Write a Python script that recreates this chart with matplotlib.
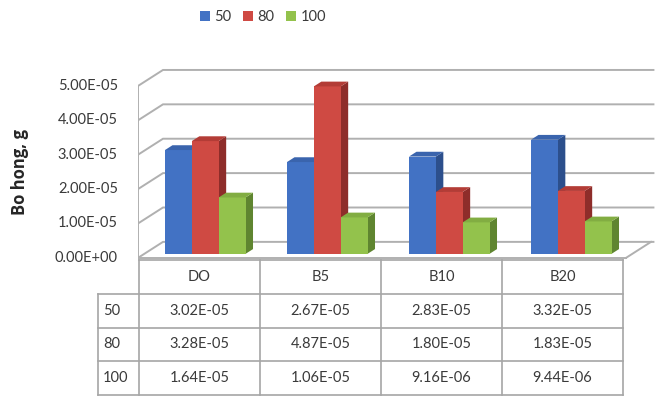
import matplotlib
matplotlib.use("Agg")
import matplotlib.pyplot as plt
from matplotlib.patches import Polygon, Patch
import numpy as np

plt.rcParams['font.family'] = ['Lato', 'DejaVu Sans']

# ---- data -------------------------------------------------------------
categories = ["DO", "B5", "B10", "B20"]
series_names = ["50", "80", "100"]
s50 = [3.02e-05, 2.67e-05, 2.83e-05, 3.32e-05]
s80 = [3.28e-05, 4.87e-05, 1.80e-05, 1.83e-05]
s100 = [1.64e-05, 1.06e-05, 9.16e-06, 9.44e-06]
series_values = [s50, s80, s100]
y_ticks = [0.0, 1e-05, 2e-05, 3e-05, 4e-05, 5e-05]
y_label = "Bo hong, g"

# ---- styles -----------------------------------------------------------
front_cols = ["#4272c4", "#cf4a43", "#93c24c"]
side_cols = ["#2c4f8c", "#8e2d2a", "#5f8530"]
top_cols = ["#3a64ad", "#b33c36", "#82ad42"]
grid_col = "#b0b0b0"
text_col = "#3a3a3a"

W, H = 656, 396
fig = plt.figure(figsize=(W / 100, H / 100), dpi=100)


def fig_rect(x0, y0, x1, y1):
    """Pixel box (top-left origin) -> figure fraction rect."""
    return [x0 / W, 1 - y1 / H, (x1 - x0) / W, (y1 - y0) / H]


# ---- 3-D column chart -------------------------------------------------
ax = fig.add_axes(fig_rect(138, 55, 656, 262))
ax.set_xlim(0, 518 / 122)
ax.set_ylim(-0.12e-05, 5.9e-05)
ax.axis("off")

DX = 25 / 122          # depth offset, category units
DY = 16 / 34.4 * 1e-05  # depth offset, value units


def proj(x, v, z):
    return (x + z * DX, v + z * DY)


n_cat = len(categories)
x_end = float(n_cat)

# side wall and back wall grid
ymax = y_ticks[-1]
ax.plot([0, 0], [0, ymax], color=grid_col, lw=1.4, zorder=1)
for t in y_ticks:
    p0 = proj(0, t, 0)
    p1 = proj(0, t, 1)
    p2 = proj(x_end + 0.02, t, 1)
    ax.plot([p0[0], p1[0], p2[0]], [p0[1], p1[1], p2[1]],
            color=grid_col, lw=1.4, zorder=1, solid_joinstyle="miter")
    ax.plot([-0.05, 0], [t, t], color=grid_col, lw=1.2, zorder=1)
    ax.text(-0.165, t, "{:.2E}".format(t), ha="right", va="center",
            fontsize=10.5, color=text_col)

# floor edges
f0 = proj(x_end, 0, 0)
f1 = proj(x_end, 0, 1)
ax.plot([0, x_end], [0, 0], color=grid_col, lw=1.4, zorder=1)
ax.plot([f0[0], f1[0]], [f0[1], f1[1]], color=grid_col, lw=1.4, zorder=1)

# bars
bar_w = 0.22
z_front, z_back = 0.25, 0.55
for s, vals in enumerate(series_values):
    for i, v in enumerate(vals):
        xl = i + 0.5 + (s - 1) * bar_w - bar_w / 2
        xr = xl + bar_w
        front = [proj(xl, 0, z_front), proj(xr, 0, z_front),
                 proj(xr, v, z_front), proj(xl, v, z_front)]
        side = [proj(xr, 0, z_front), proj(xr, 0, z_back),
                proj(xr, v, z_back), proj(xr, v, z_front)]
        top = [proj(xl, v, z_front), proj(xr, v, z_front),
               proj(xr, v, z_back), proj(xl, v, z_back)]
        zo = 3 + i * 3 + s
        ax.add_patch(Polygon(side, closed=True, fc=side_cols[s], ec="none", zorder=zo))
        ax.add_patch(Polygon(front, closed=True, fc=front_cols[s], ec="none", zorder=zo + 0.1))
        ax.add_patch(Polygon(top, closed=True, fc=top_cols[s], ec="none", zorder=zo + 0.1))

# axis title
fig.text(20 / W, 1 - 172 / H, y_label, rotation=90, ha="center", va="center",
         fontsize=12, fontweight="bold", color="#262626",
         family=["Open Sans", "DejaVu Sans"])

# legend
handles = [Patch(facecolor=c, edgecolor="none") for c in front_cols]
fig.legend(handles, series_names, loc="center", bbox_to_anchor=(263 / W, 1 - 17 / H),
           ncol=3, frameon=False, fontsize=10.5, handlelength=0.7, handleheight=0.7,
           handletextpad=0.3, columnspacing=0.8, labelcolor=text_col)

# ---- data table -------------------------------------------------------
tax = fig.add_axes(fig_rect(98, 260, 623, 395))
# row-label column spans 41 px of the box, data columns ~121 px each
lab_w = 41 / 121
tax.set_xlim(-lab_w, n_cat)
n_rows = len(series_names) + 1
tax.set_ylim(n_rows, 0)
tax.axis("off")

lc = "#a6a6a6"
# horizontal rules
tax.plot([0, n_cat], [0, 0], color=lc, lw=1.2, clip_on=False)
for r in range(1, n_rows + 1):
    tax.plot([-lab_w, n_cat], [r, r], color=lc, lw=1.2, clip_on=False)
# vertical rules
tax.plot([-lab_w, -lab_w], [1, n_rows], color=lc, lw=1.2, clip_on=False)
for c in range(n_cat + 1):
    tax.plot([c, c], [0, n_rows], color=lc, lw=1.2, clip_on=False)

for c, name in enumerate(categories):
    tax.text(c + 0.5, 0.5, name, ha="center", va="center", fontsize=10.5, color=text_col)
for r, (name, vals) in enumerate(zip(series_names, series_values)):
    tax.text(-lab_w + 0.04, r + 1.5, name, ha="left", va="center", fontsize=10.5, color=text_col)
    for c, v in enumerate(vals):
        tax.text(c + 0.5, r + 1.5, "{:.2E}".format(v), ha="center", va="center",
                 fontsize=10.5, color=text_col)

fig.savefig("out.png", dpi=100)
